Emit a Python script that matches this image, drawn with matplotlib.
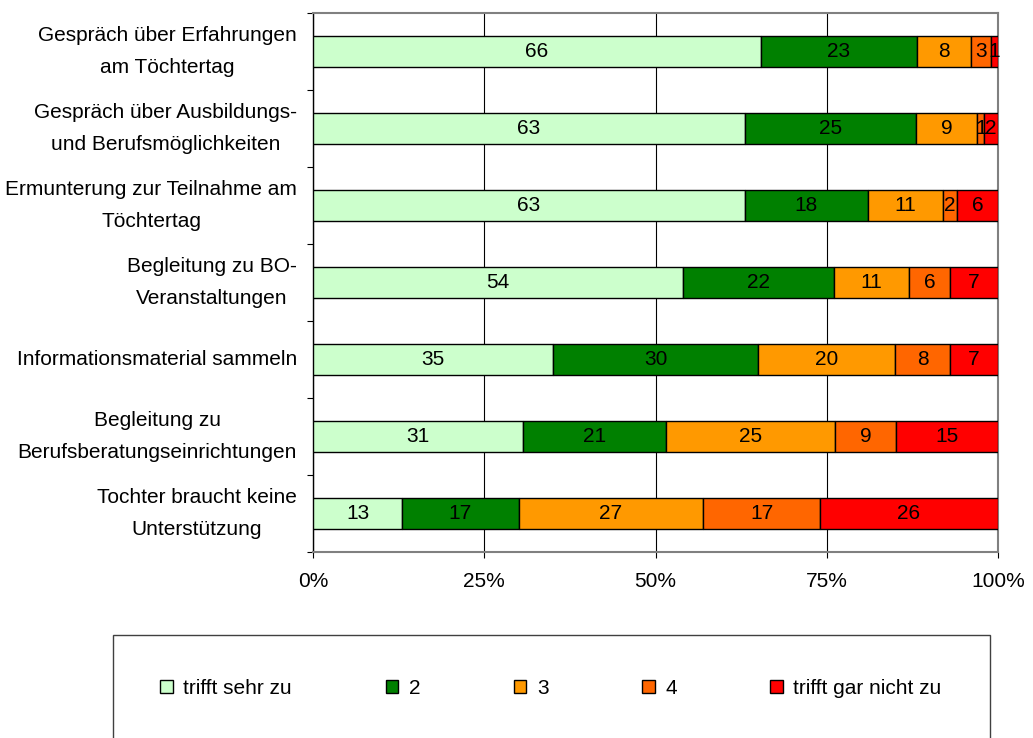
import matplotlib.pyplot as plt
import matplotlib.patches as patches
import numpy as np

plt.rcParams['font.family'] = ['Liberation Sans', 'DejaVu Sans']

categories = [
    'Gespräch über Erfahrungen\nam Töchtertag',
    'Gespräch über Ausbildungs-\nund Berufsmöglichkeiten',
    'Ermunterung zur Teilnahme am\nTöchtertag',
    'Begleitung zu BO-\nVeranstaltungen',
    'Informationsmaterial sammeln',
    'Begleitung zu\nBerufsberatungseinrichtungen',
    'Tochter braucht keine\nUnterstützung',
]
series_names = ['trifft sehr zu', '2', '3', '4', 'trifft gar nicht zu']
sehr_zu = [66, 63, 63, 54, 35, 31, 13]
wert_2 = [23, 25, 18, 22, 30, 21, 17]
wert_3 = [8, 9, 11, 11, 20, 25, 27]
wert_4 = [3, 1, 2, 6, 8, 9, 17]
gar_nicht = [1, 2, 6, 7, 7, 15, 26]
colors = ['#CCFFCC', '#008000', '#FF9900', '#FF6600', '#FF0000']
x_ticks = [0, 25, 50, 75, 100]
x_ticklabels = ['0%', '25%', '50%', '75%', '100%']

values = np.array([sehr_zu, wert_2, wert_3, wert_4, gar_nicht], dtype=float)
totals = values.sum(axis=0)
shares = values / totals * 100

fig = plt.figure(figsize=(10.33, 7.38), dpi=100)
ax = fig.add_axes([313 / 1033, 1 - 552 / 738, 685 / 1033, 539 / 738])

ypos = np.arange(len(categories)) + 0.5
left = np.zeros(len(categories))
fs = 15.0
for i, name in enumerate(series_names):
    ax.barh(ypos, shares[i], left=left, height=0.4, color=colors[i],
            edgecolor='black', linewidth=1.0, label=name, zorder=3)
    for y, l, w, v in zip(ypos, left, shares[i], values[i]):
        ax.text(l + w / 2, y, f'{int(v)}', ha='center', va='center',
                fontsize=fs, color='black', zorder=4)
    left += shares[i]

ax.set_xlim(0, 100)
ax.set_ylim(len(categories), 0)

ax.set_xticks(x_ticks)
ax.set_xticklabels(x_ticklabels, fontsize=fs)
ax.tick_params(axis='x', direction='out', length=4.3, width=0.8, pad=10)

ax.set_yticks(np.arange(len(categories) + 1))
ax.set_yticklabels([])
ax.tick_params(axis='y', which='major', direction='out', length=4.3, width=0.8)
ax.set_yticks(ypos, minor=True)
ax.set_yticklabels(categories, minor=True, fontsize=fs, linespacing=1.85,
                   multialignment='center', va='center')
ax.tick_params(axis='y', which='minor', length=0, pad=11.5)

ax.xaxis.grid(True, color='black', linewidth=0.8, zorder=0)
ax.set_axisbelow(True)

ax.spines['left'].set_color('black')
ax.spines['left'].set_linewidth(1.0)
for s in ['top', 'right', 'bottom']:
    ax.spines[s].set_color('#808080')
    ax.spines[s].set_linewidth(1.5)

# legend frame
frame = patches.Rectangle((113 / 1033, -0.01), 877 / 1033, 0.01 + 1 - 635 / 738,
                          transform=fig.transFigure, fill=False,
                          edgecolor='#404040', linewidth=1.0, clip_on=False)
fig.patches.append(frame)

ax.legend(loc='center', bbox_to_anchor=(551 / 1033, 1 - 688 / 738),
          bbox_transform=fig.transFigure, ncol=5, frameon=False,
          fontsize=fs, handlelength=0.6, handleheight=0.6,
          handletextpad=0.5, columnspacing=4.5)

fig.savefig('out.png', dpi=100)
